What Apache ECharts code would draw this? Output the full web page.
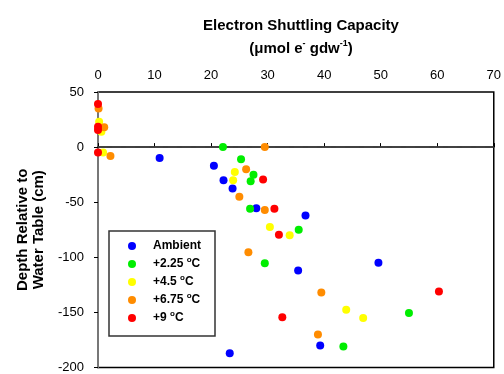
<!DOCTYPE html>
<html>
<head>
<meta charset="utf-8">
<script src="https://cdn.jsdelivr.net/npm/echarts@6/dist/echarts.min.js"></script>
<style>html,body{margin:0;padding:0;background:#fff}#c{width:504px;height:374px}</style>
</head>
<body>
<div id="c"></div>
<script>
// Data: [ESC (umol e- gdw-1), depth relative to water table (cm)]
const seriesNames = ['Ambient', '+2.25 °C', '+4.5 °C', '+6.75 °C', '+9 °C'];
const ambient = [[10.9,-10],[20.5,-17],[22.2,-30],[23.8,-37.5],[28,-55.5],[36.7,-62],[35.4,-112],[49.6,-105],[39.3,-180],[23.3,-187]];
const plus225 = [[22.1,0],[25.3,-11],[27.5,-25],[27,-31],[26.9,-56],[35.5,-75],[29.5,-105.5],[55,-150.5],[43.4,-181]];
const plus45 = [[0.2,23],[0.6,14],[0.9,-5],[24.2,-22.5],[23.9,-30],[30.4,-72.5],[33.9,-80],[43.9,-147.5],[46.9,-155]];
const plus675 = [[0.1,35],[1.1,18],[2.2,-8],[29.5,0],[26.2,-20],[25,-45],[29.5,-57],[26.6,-95.5],[39.5,-132],[38.9,-170]];
const plus9 = [[0,39],[0,18.5],[0,15.5],[0,-5],[29.2,-29.5],[31.2,-56],[32,-79.5],[60.3,-131],[32.6,-154.5]];
const xTicks = [0,10,20,30,40,50,60,70];
const yTicks = [-200,-150,-100,-50,0,50];

const colors = ['#0000ff','#00ee00','#ffff00','#ff8c00','#ff0000'];
const allData = [ambient, plus225, plus45, plus675, plus9];

const chart = echarts.init(document.getElementById('c'), null, {renderer:'canvas'});
const font = 'Liberation Sans, Arial, sans-serif';
const series = allData.map((d,i)=>({
  name: seriesNames[i],
  type: 'scatter',
  data: d,
  symbol: 'circle',
  symbolSize: 8,
  itemStyle: {color: colors[i], opacity: 1},
  emphasis: {disabled: true},
  z: 3 + i
}));
series[0].markLine = {
  silent: true, symbol: 'none', label: {show:false},
  lineStyle: {color:'#444', type:[9,5], width:1.5},
  data: [{yAxis: 0}],
  z: 1
};
chart.setOption({
  animation: false,
  backgroundColor: '#fff',
  textStyle: {fontFamily: font},
  title: [{
    text: 'Electron Shuttling Capacity',
    left: 296, top: 13, textAlign: 'center',
    textStyle: {fontFamily: font, fontSize: 15, fontWeight: 'bold', color: '#000'}
  },{
    text: '(μmol e{s|-} gdw{s|-1})',
    left: 296, top: 34, textAlign: 'center',
    textStyle: {fontFamily: font, fontSize: 15, fontWeight: 'bold', color: '#000',
      rich: {s: {fontFamily: font, fontSize: 9, fontWeight: 'bold', color:'#000', padding:[0,0,10,0]}}}
  }],
  grid: {left: 98, right: 9, top: 92, bottom: 5, show: true, borderColor: '#000', borderWidth: 1.5, backgroundColor:'#fff'},
  xAxis: {
    type: 'value', position: 'top', min: 0, max: 70, interval: 10,
    axisLine: {show: true, lineStyle: {color: '#000', width: 1.5}},
    axisTick: {show: true, inside: false, length: 4, lineStyle: {color: '#000'}},
    axisLabel: {fontFamily: font, fontSize: 13, color: '#000', margin: 10,
      formatter: v => xTicks.includes(v) ? String(v) : ''},
    splitLine: {show: false}
  },
  yAxis: {
    type: 'value', min: -200, max: 50, interval: 50,
    name: 'Depth Relative to\nWater Table (cm)',
    nameLocation: 'middle', nameRotate: 90, nameGap: 44,
    nameTextStyle: {fontFamily: font, fontSize: 15, fontWeight: 'bold', color: '#000', lineHeight: 16},
    axisLine: {show: true, onZero: false, lineStyle: {color: '#777', width: 2}},
    axisTick: {show: true, length: 4, lineStyle: {color: '#000'}},
    axisLabel: {fontFamily: font, fontSize: 13, color: '#000', margin: 14,
      formatter: v => yTicks.includes(v) ? String(v) : ''},
    splitLine: {show: false}
  },
  legend: {
    data: seriesNames,
    orient: 'vertical',
    left: 109, top: 231,
    backgroundColor: '#fff',
    borderColor: '#333', borderWidth: 1.5, borderRadius: 0,
    padding: [9, 14, 12, 19],
    itemGap: 4,
    itemWidth: 8, itemHeight: 8,
    icon: 'circle',
    formatter: n => n.replace(' °C', ' {s|o}C'),
    textStyle: {fontFamily: font, fontSize: 12, fontWeight: 'bold', color: '#000', padding: [0,0,0,12],
      rich: {s: {fontFamily: font, fontSize: 8, fontWeight: 'bold', color: '#000', padding: [0,0,8,0]}}},
    selectedMode: false,
    z: 10
  },
  series: series
});
</script>
</body>
</html>
